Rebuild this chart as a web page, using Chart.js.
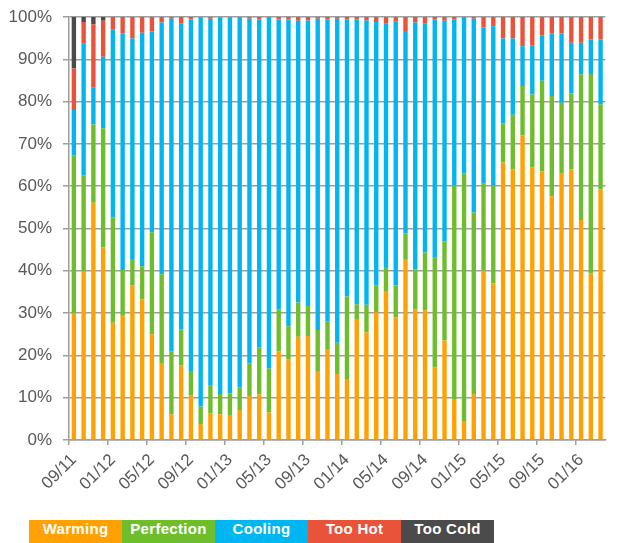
<!DOCTYPE html>
<html>
<head>
<meta charset="utf-8">
<script src="https://cdn.jsdelivr.net/npm/chart.js@4"></script>
<style>
  html, body { margin: 0; padding: 0; background: #fff; overflow: hidden; }
  #wrap { position: relative; width: 620px; height: 543px; }
  #legend { position: absolute; left: 29px; top: 520px; display: flex; }
  #legend div {
    width: 93px; height: 23px; line-height: 28px; overflow: hidden; text-align: center;
    color: #fff; font: bold 15px "Liberation Sans", Arial, sans-serif; letter-spacing: 0.3px;
  }
</style>
</head>
<body>
<div id="wrap">
  <canvas id="stack_chart"></canvas>
  <div id="legend"></div>
</div>
<script>
// months, one bar each
var months = ["09/11", "10/11", "11/11", "12/11",
  "01/12", "02/12", "03/12", "04/12", "05/12", "06/12", "07/12", "08/12", "09/12", "10/12", "11/12", "12/12",
  "01/13", "02/13", "03/13", "04/13", "05/13", "06/13", "07/13", "08/13", "09/13", "10/13", "11/13", "12/13",
  "01/14", "02/14", "03/14", "04/14", "05/14", "06/14", "07/14", "08/14", "09/14", "10/14", "11/14", "12/14",
  "01/15", "02/15", "03/15", "04/15", "05/15", "06/15", "07/15", "08/15", "09/15", "10/15", "11/15", "12/15",
  "01/16", "02/16", "03/16"];

// percent of each month
var warming = [30, 39.8, 56.1, 45.5, 27.7, 29.4, 36.6, 33.3, 25, 18, 6.1, 17.7, 10.6, 3.8, 6.3, 6.1, 5.9, 7.1, 10.4, 10.8,
  6.5, 21, 19.1, 24.4, 24.6, 16.3, 21.5, 15.6, 14.4, 28.6, 25.4, 30.2, 35.2, 29, 42.8, 30.9, 30.7, 17.2, 23.5, 9.7,
  4.5, 10.9, 40, 37, 65.6, 64, 72, 64.4, 63.5, 57.6, 63.1, 64, 52, 39.4, 59.2];
var perfection = [37.3, 22.8, 18.5, 28.2, 24.9, 10.8, 6.2, 7.8, 24.1, 21.2, 14.9, 8.5, 5.7, 4.1, 6.5, 4.8, 5.1, 5.3, 7.7, 11.1,
  10.4, 9.9, 7.8, 8.1, 7.1, 9.7, 6.5, 7.4, 19.5, 3.5, 6.6, 6.4, 5.7, 7.5, 6, 9.4, 13.6, 25.9, 23.4, 50.5,
  58.5, 42.9, 20.6, 23.2, 9.2, 12.9, 11.7, 17.3, 21.4, 23.7, 16.6, 17.9, 34.4, 47.1, 20.2];
var cooling = [10.7, 31.1, 8.7, 16.9, 44.5, 55.9, 52.1, 55.2, 47.5, 59.5, 78.6, 72.2, 83.1, 91.9, 86.8, 88.9, 88.8, 87.6, 81.5, 77.5,
  83.1, 68.5, 72.5, 66.6, 67.5, 73.6, 71.4, 76.6, 65.5, 67.3, 67.2, 62.2, 57.5, 62.5, 47.9, 58.4, 54.1, 56.3, 52.2, 39.2,
  37, 45.8, 36.9, 37.6, 20.1, 18, 9.4, 11.6, 10.8, 14.8, 16.4, 12, 7.5, 8.2, 15.3];
var tooHot = [9.8, 5.1, 15, 8.5, 2.9, 3.9, 5.1, 3.7, 3.4, 1.3, 0.4, 1.6, 0.6, 0.2, 0.4, 0.2, 0.2, 0, 0.4, 0.6,
  0, 0.6, 0.6, 0.9, 0.8, 0.4, 0.6, 0.4, 0.6, 0.6, 0.8, 1.2, 1.6, 1, 3.3, 1.3, 1.6, 0.6, 0.9, 0.6,
  0, 0.4, 2.5, 2.2, 5.1, 5.1, 6.9, 6.7, 4.3, 3.9, 3.9, 6.1, 6.1, 5.3, 5.3];
var tooCold = [12.2, 1.2, 1.7, 0.9, 0, 0, 0, 0, 0, 0, 0, 0, 0, 0, 0, 0, 0, 0, 0, 0,
  0, 0, 0, 0, 0, 0, 0, 0, 0, 0, 0, 0, 0, 0, 0, 0, 0, 0, 0, 0,
  0, 0, 0, 0, 0, 0, 0, 0, 0, 0, 0, 0, 0, 0, 0];

var seriesNames = ["Warming", "Perfection", "Cooling", "Too Hot", "Too Cold"];
var seriesColors = ["#FFA100", "#6EBE2B", "#00B6F0", "#E8533A", "#4B4B4B"];
var yTicks = [0, 10, 20, 30, 40, 50, 60, 70, 80, 90, 100];

var allSeries = [warming, perfection, cooling, tooHot, tooCold];
var datasets = [];
for (var i = 0; i < allSeries.length; i++) {
    datasets.push({
        label: seriesNames[i],
        data: allSeries[i],
        backgroundColor: seriesColors[i],
        borderWidth: 0,
        barPercentage: 0.45,
        categoryPercentage: 1
    });
}

// legend: coloured blocks with white text
var legendBox = document.getElementById("legend");
for (var j = 0; j < seriesNames.length; j++) {
    var item = document.createElement("div");
    item.style.background = seriesColors[j];
    item.textContent = seriesNames[j];
    legendBox.appendChild(item);
}

var gridGrey = "#9E9E9E";
var labelFont = { family: "'Liberation Sans', Arial, sans-serif", size: 17 };

var ctx = document.getElementById("stack_chart");
var myChart = new Chart(ctx, {
    type: 'bar',
    data: {
        labels: months,
        datasets: datasets
    },
    options: {
        responsive: true,
        maintainAspectRatio: false,
        animation: false,
        layout: { padding: { top: 17, right: 0, bottom: 0, left: 0 } },
        plugins: {
            legend: { display: false },
            tooltip: { enabled: false }
        },
        scales: {
            x: {
                stacked: true,
                afterFit: function (scale) { scale.height = 103; },
                grid: {
                    offset: true,
                    drawOnChartArea: false,
                    tickLength: 5,
                    lineWidth: 1.5,
                    color: function (c) {
                        return (c.index % 4 === 0) ? gridGrey : 'rgba(0,0,0,0)';
                    }
                },
                border: { color: gridGrey, width: 1.5 },
                ticks: {
                    autoSkip: false,
                    maxRotation: 45,
                    minRotation: 45,
                    padding: 5,
                    color: '#595959',
                    font: labelFont,
                    callback: function (val, index) {
                        return (index % 4 === 0) ? months[index] : '';
                    }
                }
            },
            y: {
                stacked: true,
                min: 0,
                max: 100,
                afterFit: function (scale) {
                    scale.width = 69;
                    scale.paddingTop = 0;
                    scale.paddingBottom = 0;
                },
                afterBuildTicks: function (scale) {
                    scale.ticks = yTicks.map(function (v) { return { value: v }; });
                },
                grid: {
                    color: gridGrey,
                    lineWidth: 1.5,
                    tickLength: 6
                },
                border: { color: gridGrey, width: 1.5 },
                ticks: {
                    padding: 11,
                    color: '#595959',
                    font: labelFont,
                    callback: function (v) { return v + '%'; }
                }
            }
        }
    }
});
</script>
</body>
</html>
